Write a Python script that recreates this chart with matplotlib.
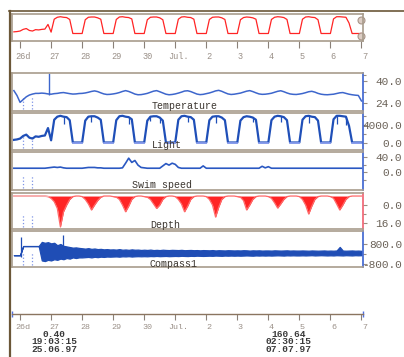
import numpy as np
import matplotlib
matplotlib.use("Agg")
import matplotlib.pyplot as plt
from matplotlib.lines import Line2D
from matplotlib.transforms import ScaledTranslation

plt.rcParams['font.family'] = ['Liberation Mono', 'DejaVu Sans Mono']

# time in days since 26.06.97 00:00, one reading every 0.1 day
t = np.round(np.arange(-0.2, 11.0001, 0.1), 1)

day_ticks = [0, 1, 2, 3, 4, 5, 6, 7, 8, 9, 10, 11]
day_labels = ["26d", "27", "28", "29", "30", "Jul.", "2", "3", "4", "5", "6", "7"]

light = np.array([
    600, 700,
    900, 1500, 1800, 1100, 900, 1400, 1300, 1500, 1600, 3300,
    500, 5200, 5900, 6100, 5900, 5800, 5100, 0, 0, 0,
    0, 5000, 5900, 6000, 6000, 5700, 5200, 0, 0, 0,
    0, 5100, 6000, 6100, 5900, 5800, 5300, 0, 0, 0,
    0, 5000, 5900, 6000, 6000, 5700, 5000, 0, 0, 0,
    0, 5200, 6000, 6100, 5900, 5800, 5200, 0, 0, 0,
    0, 5100, 5900, 6000, 6000, 5700, 5100, 0, 0, 0,
    0, 5000, 5800, 6000, 5900, 5700, 5200, 0, 0, 0,
    0, 5100, 5900, 6100, 6000, 5800, 5100, 0, 0, 0,
    0, 5200, 6000, 6100, 5900, 5800, 5000, 0, 0, 0,
    0, 5300, 6100, 6100, 6000, 5900, 3800, 0, 0, 0,
    0,
], dtype=float)

# short drops in daylight readings
light_dip_t = [1.4, 2.3, 3.5, 4.2, 4.5, 5.4, 6.3, 7.5, 8.4, 9.3, 10.2, 10.5]
light_dip_lo = [4300, 4800, 4200, 4900, 4500, 4700, 4400, 4600, 4800, 4500, 4200, 4000]

temp = np.array([
    33.0, 29.5,
    24.5, 26.5, 28.5, 29.8, 30.5, 31.0, 31.0, 31.2, 31.0, 30.6,
    30.4, 30.8, 31.0, 31.4, 31.6, 31.2, 30.8, 30.5, 30.6, 30.9,
    31.0, 31.3, 31.8, 32.4, 32.8, 32.3, 31.4, 30.6, 30.2, 30.3,
    30.6, 31.0, 31.6, 32.4, 33.0, 32.4, 31.5, 30.5, 30.0, 30.1,
    30.5, 31.0, 31.8, 32.6, 33.0, 32.2, 31.3, 30.4, 30.0, 30.2,
    30.6, 31.2, 31.9, 32.7, 32.9, 32.3, 31.4, 30.5, 30.1, 30.3,
    30.8, 31.3, 32.0, 32.8, 33.2, 32.5, 31.5, 30.6, 30.2, 30.4,
    30.8, 31.2, 31.9, 32.6, 33.0, 32.3, 31.4, 30.6, 30.3, 30.4,
    30.7, 31.1, 31.8, 32.5, 32.9, 32.2, 31.3, 30.6, 30.3, 30.2,
    30.5, 30.9, 31.5, 32.2, 32.5, 31.9, 31.0, 30.4, 30.1, 30.0,
    30.2, 30.4, 30.9, 31.4, 31.6, 31.0, 30.4, 30.0, 29.7, 29.5,
    25.5,
])
temp_spike_t = [0.93]
temp_spike_lo = [30.0]
temp_spike_hi = [46.0]

swim = np.array([
    11, 11,
    11, 11, 11, 11, 11, 11, 11, 11, 11, 12,
    13, 14, 13, 14, 12, 11, 11, 11, 11, 11,
    11, 12, 13, 13, 13, 12, 12, 11, 11, 11,
    11, 11, 11, 12, 24, 37, 26, 31, 19, 13,
    12, 11, 11, 11, 11, 11, 17, 23, 19, 24,
    21, 13, 11, 11, 11, 11, 11, 11, 11, 17,
    11, 11, 11, 11, 11, 11, 11, 11, 11, 11,
    11, 11, 11, 11, 11, 11, 11, 11, 16, 12,
    15, 11, 11, 11, 11, 11, 11, 11, 11, 11,
    11, 11, 11, 11, 11, 11, 11, 11, 11, 11,
    11, 11, 11, 11, 11, 11, 11, 11, 11, 11,
    11,
], dtype=float)

surface = -8.0
depth = np.array([
    -8, -8,
    -8, -8, -8, -8, -8, -8, -8, -8, -8, -7.5,
    -6, -3, 3, 19.5, 6, 0, -5, -7.5, -8, -8,
    -7.5, -5, -1, 4.4, 0, -4, -7, -8, -8, -8,
    -7.5, -7, -5, 0, 6, 1, -5, -7.5, -8, -8,
    -7.5, -7, -5, -1, 3, 0, -5, -7.5, -8, -8,
    -7.5, -5, -1, 6, 1, -5, -7.5, -8, -8, -8,
    -7.5, -5, 0, 10.7, 2, -5, -7.5, -8, -8, -8,
    -7.5, -7, -4, 4.4, 0, -5, -7.5, -8, -8, -8,
    -7.5, -6, -2, 2.7, -1, -5, -7.5, -8, -8, -8,
    -7.5, -5, 0, 8, 1, -5, -7.5, -8, -8, -8,
    -7.5, -6, -1, 4.4, 0, -5, -7.5, -8, -8, -8,
    -8,
], dtype=float)

compass_hi = np.array([
    -120, -120,
    -120, 630, 630, 630, 630, 630, 630, 970, 900, 950,
    850, 900, 700, 800, 650, 600, 550, 500, 520, 480,
    450, 420, 460, 400, 430, 380, 400, 360, 380, 350,
    360, 340, 380, 330, 350, 320, 360, 330, 340, 310,
    330, 310, 340, 300, 320, 300, 330, 310, 300, 320,
    310, 300, 320, 290, 300, 310, 290, 300, 280, 300,
    290, 280, 300, 270, 290, 280, 270, 290, 280, 270,
    280, 270, 290, 280, 260, 280, 270, 280, 260, 270,
    270, 260, 280, 270, 260, 270, 280, 260, 270, 260,
    260, 270, 260, 250, 270, 260, 250, 260, 270, 250,
    260, 250, 270, 560, 260, 250, 260, 270, 250, 260,
    240,
], dtype=float)
compass_lo = np.array([
    -120, -120,
    -120, 630, 630, 630, 630, 630, 630, -550, -600, -500,
    -550, -450, -500, -400, -450, -350, -400, -300, -350, -300,
    -300, -280, -260, -300, -250, -280, -240, -260, -230, -240,
    -230, -220, -240, -210, -220, -200, -230, -210, -200, -210,
    -200, -210, -190, -200, -180, -200, -190, -180, -200, -190,
    -180, -190, -170, -180, -190, -170, -180, -160, -170, -180,
    -170, -160, -170, -150, -160, -170, -150, -160, -150, -160,
    -150, -160, -150, -140, -150, -160, -140, -150, -140, -150,
    -140, -150, -140, -130, -140, -150, -130, -140, -130, -140,
    -140, -130, -140, -130, -120, -140, -130, -120, -130, -140,
    -130, -140, -120, -130, -140, -120, -130, -140, -120, -130,
    -120,
], dtype=float)
compass_spike_t = [0.03, 1.38]
compass_spike_lo = [-300, 0]
compass_spike_hi = [1390, 1560]

marker_t = [0.1, 0.38]

bottom_left = ["0.40", "19:03:15", "25.06.97"]
bottom_right = ["160.64", "02:30:15", "07.07.97"]

# ---- layout in pixels ----
W, H = 404, 357
FRAME = '#6b5738'
EDGE = '#a89c8c'
BLUE = '#1f4fb8'
LBLUE = '#8ea0f0'
RED = '#ff2424'
XLIM = (-0.26, 11.05)


def box(x0, y0, x1, y1):
    return [x0 / W, 1 - y1 / H, (x1 - x0) / W, (y1 - y0) / H]


fig = plt.figure(figsize=(W / 100, H / 100), dpi=100)
fig.patch.set_facecolor('white')

# outer frame
fig.add_artist(Line2D([9.5 / W, 9.5 / W], [0, 1 - 10.5 / H], transform=fig.transFigure,
                      color=FRAME, lw=1.6))
fig.add_artist(Line2D([9 / W, 1], [1 - 10.5 / H, 1 - 10.5 / H], transform=fig.transFigure,
                      color=FRAME, lw=1.2))


def panel(y0, y1, ylim, ticks, labels, minor, right_color):
    ax = fig.add_axes(box(12, y0, 363, y1))
    ax.set_xlim(XLIM)
    ax.set_ylim(ylim)
    ax.set_xticks([])
    for s in ax.spines.values():
        s.set_color(EDGE)
        s.set_linewidth(1.2)
    ax.spines['right'].set_color(right_color)
    ax.yaxis.tick_right()
    ax.set_yticks(ticks)
    ax.set_yticklabels(labels)
    ax.set_yticks(minor, minor=True)
    ax.tick_params(axis='y', which='both', direction='out', length=3, width=0.8,
                   color='#9a8f80', pad=25, labelsize=8, labelcolor='#6b6258')
    ax.tick_params(axis='y', which='minor', length=2)
    for lbl in ax.get_yticklabels():
        lbl.set_ha('right')
    for m in marker_t:
        ax.axvline(m, ymin=0.05, ymax=0.4, ls=':', color='#7d93e6', lw=0.9)
    return ax


def title(x, y, s):
    fig.text(x / W, 1 - y / H, s, ha='left', va='center', fontsize=7.2, color='#3c3630')


# overview strip
ax0 = fig.add_axes(box(12, 14, 363, 41))
ax0.plot(t, light, color=RED, lw=0.9)
ax0.set_xlim(XLIM)
ax0.set_ylim(-2727, 7090)
ax0.set_yticks([])
for s in ax0.spines.values():
    s.set_color(EDGE)
    s.set_linewidth(1.2)
ax0.set_xticks(day_ticks)
ax0.set_xticklabels(day_labels)
ax0.tick_params(axis='x', direction='out', length=5, width=0.8, color='#8a8078',
                pad=3, labelsize=6.2, labelcolor='#9a9088')
for lbl in ax0.get_xticklabels():
    lbl.set_transform(lbl.get_transform() + ScaledTranslation(0.03, 0, fig.dpi_scale_trans))
ax0.plot([0.994, 0.994], [0.78, 0.18], transform=ax0.transAxes, ls='none', marker='o',
         ms=5, mfc='#dccdc4', mec='#a89488', mew=0.8, clip_on=False)

# temperature
ax1 = panel(73, 111, (18.2, 45.8), [24, 40], ["24.0", "40.0"], [32, 44], '#3b62d0')
ax1.plot(t, temp, color='#3d66cc', lw=1.1)
ax1.vlines(temp_spike_t, temp_spike_lo, temp_spike_hi, color='#3d66cc', lw=1.0)
title(152, 106, "Temperature")

# light
ax2 = panel(113, 150, (-1714, 6743), [0, 4000], ["0.0", "4000.0"], [2000, 6000], '#3b62d0')
ax2.plot(t, light, color=BLUE, lw=1.6)
night = np.where(light == 0, light, np.nan)
ax2.plot(t, night, color=LBLUE, lw=1.2)
dip_idx = np.searchsorted(t, light_dip_t)
ax2.vlines(light_dip_t, light_dip_lo, light[dip_idx], color=BLUE, lw=0.9)
title(152, 145, "Light")

# swim speed
ax3 = panel(152, 190, (-45.2, 52.9), [0, 40], ["0.0", "40.0"], [20, -20], '#3b62d0')
ax3.plot(t, swim, color='#2a58c2', lw=1.2)
title(132, 185, "Swim speed")

# depth (down is deeper)
ax4 = panel(193, 229, (21.3, -10.7), [0, 16], ["0.0", "16.0"], [8], '#f06070')
ax4.fill_between(t, surface, depth, color=RED, lw=0)
ax4.plot(t, depth, color='#ff6a6a', lw=0.9)
early = np.where(t < 0.95, depth, np.nan)
ax4.plot(t, early, color='#f6b0b0', lw=1.2)
title(150, 225, "Depth")

# compass
ax5 = panel(231, 267, (-1087, 1866), [-800, 800], ["-800.0", "800.0"], [0], '#3b62d0')
ax5.fill_between(t, compass_lo, compass_hi, facecolor='#1f4db5', edgecolor='#1f4db5', lw=0.9)
ax5.vlines(compass_spike_t, compass_spike_lo, compass_spike_hi, color='#1f4db5', lw=0.9)
title(150, 264, "Compass1")

# bottom time axis
axb = fig.add_axes(box(12, 300, 363, 314))
axb.set_xlim(XLIM)
axb.set_yticks([])
axb.patch.set_alpha(0)
for k in ['top', 'left', 'right']:
    axb.spines[k].set_visible(False)
axb.spines['bottom'].set_color('#8a7560')
axb.spines['bottom'].set_linewidth(1.0)
axb.set_xticks(day_ticks)
axb.set_xticklabels(day_labels)
axb.tick_params(axis='x', direction='out', length=4.5, width=0.8, color='#8a8078',
                pad=3, labelsize=6.0, labelcolor='#9a9088')
for lbl in axb.get_xticklabels():
    lbl.set_transform(lbl.get_transform() + ScaledTranslation(0.03, 0, fig.dpi_scale_trans))
axb.plot([0, 1], [0, 0], transform=axb.transAxes, ls='none', marker='|', ms=5,
         color='#5070e0', clip_on=False)

# cursor readouts under the time axis
fig.text(54 / W, 1 - 330 / H, "\n".join(bottom_left), ha='center', va='top',
         fontsize=6.8, fontweight='bold', color='#3a3a3a', linespacing=0.78,
         multialignment='center')
fig.text(289 / W, 1 - 330 / H, "\n".join(bottom_right), ha='center', va='top',
         fontsize=6.8, fontweight='bold', color='#3a3a3a', linespacing=0.78,
         multialignment='center')

fig.savefig("out.png", dpi=100)
plt.close(fig)
